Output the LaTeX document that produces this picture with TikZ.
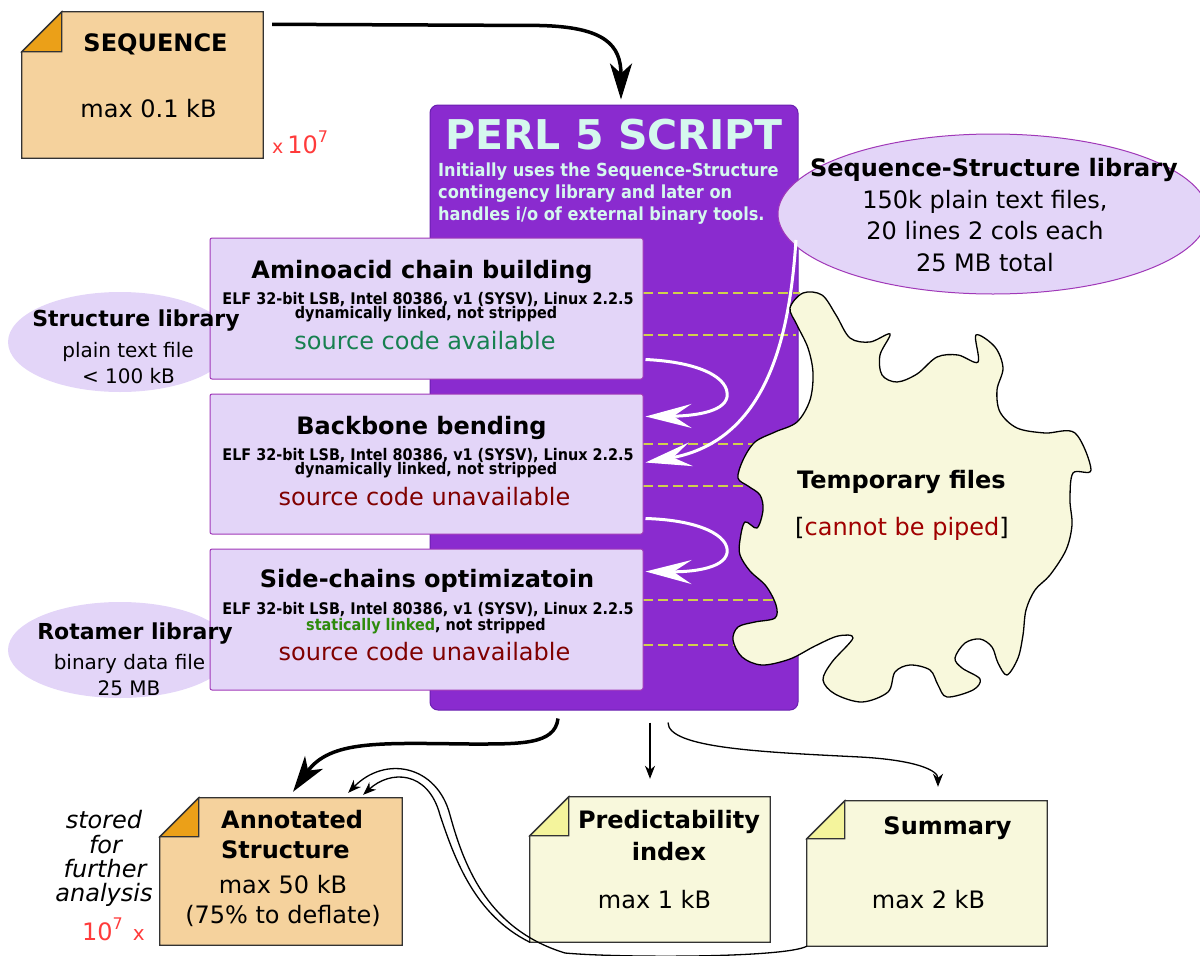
\documentclass[tikz,border=0pt]{standalone}
\usepackage{fontspec}
\setmainfont{DejaVu Sans}
\newfontfamily\condfont[FakeStretch=0.9]{DejaVu Sans}
\usetikzlibrary{shapes.geometric, arrows.meta, calc}

\definecolor{noteor}{HTML}{F5D29D}
\definecolor{foldor}{HTML}{EBA018}
\definecolor{noteye}{HTML}{F8F8DC}
\definecolor{foldye}{HTML}{F4F49C}
\definecolor{perlc}{HTML}{8A2BCF}
\definecolor{perlb}{HTML}{6A20B0}
\definecolor{lav}{HTML}{E3D5F8}
\definecolor{lavb}{HTML}{A038B8}
\definecolor{mint}{HTML}{D5F8EE}
\definecolor{blobc}{HTML}{F8F8DC}
\definecolor{dashc}{HTML}{D0D04C}
\definecolor{redx}{HTML}{FF3B3B}
\definecolor{availc}{HTML}{178050}
\definecolor{unavc}{HTML}{800000}
\definecolor{statc}{HTML}{2E8A0C}
\definecolor{pipec}{HTML}{A00000}
\definecolor{noteb}{HTML}{333333}

\newcommand\fsz[1]{\fontsize{#1}{#1}\selectfont}
\newcommand\mynotebox[4]{%
  \filldraw[fill=#3, draw=noteb, line width=1.3pt, line join=miter] (#1.south west) -- (#1.south east) -- (#1.north east) -- ($(#1.north west)+(#2,0)$) -- ($(#1.north west)+(0,#2)$) -- cycle;
  \filldraw[fill=#4, draw=noteb, line width=1.3pt, line join=miter] ($(#1.north west)+(#2,0)$) -- ($(#1.north west)+(#2,#2)$) -- ($(#1.north west)+(0,#2)$) -- cycle;}

\tikzset{
  t/.style={inner sep=0pt, anchor=base},
  lib/.style={ellipse, draw=lavb, fill=lav, line width=1pt, inner sep=0pt},
  sidelib/.style={ellipse, fill=lav, inner sep=0pt},
  task/.style={rectangle, draw=lavb, fill=lav, line width=1pt, rounded corners=2pt, inner sep=0pt},
  perlbox/.style={rectangle, draw=perlb, fill=perlc, line width=1pt, rounded corners=8pt, inner sep=0pt},
  notearea/.style={rectangle, inner sep=0pt},
  dashln/.style={draw=dashc, line width=2pt, dash pattern=on 10pt off 5pt},
  whitearr/.style={draw=white, line width=3pt, -{Stealth[length=46pt, width=24pt, inset=18pt]}},
  bigarr/.style={draw=black, line width=3.5pt, -{Stealth[length=36pt, width=22pt, inset=10pt]}},
  thinarr/.style={draw=black, line width=1.3pt, -{Stealth[length=13pt, width=10pt, inset=4pt]}},
  blob/.style={draw=black, fill=blobc, line width=1.3pt},
}

\begin{document}
\begin{tikzpicture}[x=1pt, y=-1pt]
\useasboundingbox (0,0) rectangle (1200,956);

% side libraries
\node[sidelib, minimum width=224pt, minimum height=100pt] (stl) at (120,342) {};
\node[sidelib, minimum width=224pt, minimum height=96pt] (rot) at (120,650) {};

% perl script box
\node[perlbox, minimum width=368pt, minimum height=605pt] (perl) at (614,407.5) {};
\node[t, text=mint] (perlt) at (614,149) {\fsz{41}\bfseries PERL 5 SCRIPT};
\node[t, anchor=base west, text=mint] (perld1) at (438,176) {\condfont\bfseries\fsz{18}Initially uses the Sequence-Structure};
\node[t, anchor=base west, text=mint] (perld2) at (438,198) {\condfont\bfseries\fsz{18}contingency library and later on};
\node[t, anchor=base west, text=mint] (perld3) at (438,220) {\condfont\bfseries\fsz{18}handles i/o of external binary tools.};

% dashed lines
\foreach \yy/\xe in {293/800,335/796,444/790,486/790,600/790,645/790}
  \draw[dashln] (643,\yy) -- (\xe,\yy);

% task boxes
\node[task, minimum width=433pt, minimum height=141pt] (b1) at (426.5,308.5) {};
\node[task, minimum width=433pt, minimum height=140pt] (b2) at (426.5,464) {};
\node[task, minimum width=433pt, minimum height=141pt] (b3) at (426.5,619.5) {};

\node[t] (b1t) at (422,278) {\fsz{24}\bfseries Aminoacid chain building};
\node[t] (b1e) at (428,304) {\condfont\bfseries\fsz{16}ELF 32-bit LSB, Intel 80386, v1 (SYSV), Linux 2.2.5};
\node[t] (b1d) at (426,318) {\condfont\bfseries\fsz{16}dynamically linked, not stripped};
\node[t, text=availc] (b1s) at (425,349) {\fsz{24}source code available};

\node[t] (b2t) at (421.5,434) {\fsz{24}\bfseries Backbone bending};
\node[t] (b2e) at (428,460) {\condfont\bfseries\fsz{16}ELF 32-bit LSB, Intel 80386, v1 (SYSV), Linux 2.2.5};
\node[t] (b2d) at (426,474) {\condfont\bfseries\fsz{16}dynamically linked, not stripped};
\node[t, text=unavc] (b2s) at (424.5,505) {\fsz{24}source code unavailable};

\node[t] (b3t) at (427,587) {\fsz{24}\bfseries Side-chains optimizatoin};
\node[t] (b3e) at (428,614) {\condfont\bfseries\fsz{16}ELF 32-bit LSB, Intel 80386, v1 (SYSV), Linux 2.2.5};
\node[t] (b3d) at (426,630) {\condfont\bfseries\fsz{16}\textcolor{statc}{statically linked}, not stripped};
\node[t, text=unavc] (b3s) at (424.5,660) {\fsz{24}source code unavailable};

% library texts
\node[t] (stl1) at (136,326) {\fsz{22}\bfseries Structure library};
\node[t] (stl2) at (128,357) {\fsz{20}plain text file};
\node[t] (stl3) at (128.5,383) {\fsz{20}< 100 kB};
\node[t] (rot1) at (135,639) {\fsz{22}\bfseries Rotamer library};
\node[t] (rot2) at (129.5,669) {\fsz{20}binary data file};
\node[t] (rot3) at (129,695) {\fsz{20}25 MB};

% sequence-structure library
\node[lib, minimum width=430pt, minimum height=160pt] (ssl) at (993,214) {};
\node[t] (ssl1) at (994,176) {\fsz{24}\bfseries Sequence-Structure library};
\node[t] (ssl2) at (985,208) {\fsz{24}150k plain text files,};
\node[t] (ssl3) at (985,239) {\fsz{24}20 lines 2 cols each};
\node[t] (ssl4) at (985,271) {\fsz{24}25 MB total};

% white arrows inside the script box
\coordinate (ws) at (796,240);
\draw[whitearr] ($(b1.north east)+(2,122)$) .. controls (700,362) and (730,378) .. (727,397) .. controls (724,413) and (690,416) .. ($(b2.north east)+(2,23)$);
\draw[whitearr] (ws) .. controls (790,330) and (770,440) .. ($(b2.north east)+(2,69)$);
\draw[whitearr] ($(b2.south east)+(2,-16)$) .. controls (700,520) and (730,536) .. (727,553) .. controls (724,569) and (690,572) .. ($(b3.north east)+(2,23)$);

% temporary files blob
\draw[blob] plot[smooth cycle, tension=0.55] coordinates {
 (790,308) (803,293) (822,295) (836,315) (850,338) (870,342) (890,334) (880,355) (882,375)
 (897,382) (917,374) (937,357) (958,355) (978,362) (976,335) (995,347) (1003,368) (997,390)
 (1000,412) (1017,428) (1045,433) (1075,433) (1091,470) (1073,473) (1070,500) (1072,525)
 (1066,550) (1050,575) (1035,590) (1026,610) (1023,635) (1018,658) (1007,675) (998,663)
 (992,647) (980,639) (965,643) (955,658) (962,668) (980,679) (973,690) (947,697) (938,685)
 (930,670) (910,665) (895,672) (888,692) (862,702) (835,694) (823,680) (832,662) (853,638)
 (838,636) (815,646) (790,659) (762,665) (742,657) (733,640) (738,627) (755,622) (775,618)
 (776,605) (766,586) (750,571) (740,555)
 (740,540) (745,522) (757,528) (763,510) (760,495) (748,486) (738,478) (743,460) (755,442)
 (775,432) (797,422) (810,400) (813,373) (808,348) (797,325)};
\node[t] (tmp1) at (901.5,488) {\fsz{24}\bfseries Temporary files};
\node[t] (tmp2) at (902,535) {\fsz{24}[\textcolor{pipec}{cannot be piped}]};

% sequence note
\node[notearea, minimum width=241pt, minimum height=146pt] (seq) at (142.5,85) {};
\mynotebox{seq}{40}{noteor}{foldor}
\node[t] (seqt) at (155.5,51) {\fsz{24}\bfseries SEQUENCE};
\node[t] (seqs) at (148.5,117) {\fsz{24}max 0.1 kB};
\node[t, anchor=base west, text=redx] (seqx) at (272,153) {\fsz{19}x\hspace{4pt}\fsz{24}10\raisebox{11pt}{\fsz{16}7}};

% output notes
\node[notearea, minimum width=242pt, minimum height=147pt] (ann) at (281,871.5) {};
\mynotebox{ann}{39}{noteor}{foldor}
\node[t, anchor=base west] (ann1) at (221,828) {\fsz{24}\bfseries Annotated};
\node[t, anchor=base west] (ann2) at (221,858) {\fsz{24}\bfseries Structure};
\node[t] (ann3) at (283,893) {\fsz{24}max 50 kB};
\node[t] (ann4) at (283,923) {\fsz{24}(75\% to deflate)};

\node[notearea, minimum width=240pt, minimum height=145pt] (pred) at (650,869.5) {};
\mynotebox{pred}{39}{noteye}{foldye}
\node[t] (pred1) at (669,828) {\fsz{24}\bfseries Predictability};
\node[t] (pred2) at (669,860) {\fsz{24}\bfseries index};
\node[t] (pred3) at (654.5,908) {\fsz{24}max 1 kB};

\node[notearea, minimum width=240pt, minimum height=145pt] (summ) at (927,873.5) {};
\mynotebox{summ}{38}{noteye}{foldye}
\node[t] (summ1) at (947.5,834) {\fsz{24}\bfseries Summary};
\node[t] (summ2) at (928.5,908) {\fsz{24}max 2 kB};

% side texts
\node[t] (st1) at (104,828) {\fsz{24}\itshape stored};
\node[t] (st2) at (105.5,853) {\fsz{24}\itshape for};
\node[t] (st3) at (105,877) {\fsz{24}\itshape further};
\node[t] (st4) at (104,901) {\fsz{24}\itshape analysis};
\node[t, anchor=base west, text=redx] (annx) at (82,940) {\fsz{24}10\raisebox{11pt}{\fsz{16}7}\hspace{10pt}\fsz{20}x};

% black connectors
\draw[bigarr] ($(seq.north east)+(9,12.5)$) -- (540,25.5) .. controls (605,27) and (621,45) .. ($(perl.north)+(7,-5)$);
\draw[bigarr] ($(perl.south)+(-56,8)$) .. controls (555,745) and (520,744) .. (470,744) .. controls (380,743) and (330,740) .. ($(ann.north)+(12,-6)$);
\draw[thinarr] ($(perl.south)+(36,12)$) -- ($(pred.north)+(0,-18)$);
\draw[thinarr] ($(perl.south)+(54,12)$) .. controls (668,748) and (760,752) .. (860,757) .. controls (915,760) and (938,770) .. ($(summ.north)+(11,-14)$);
\draw[thinarr] (pred.south west) .. controls (475,915) and (455,860) .. (440,815) .. controls (428,770) and (390,770) .. ($(ann.north east)+(-39,-3)$);
\draw[thinarr] (summ.south west) .. controls (785,958) and (620,958) .. (565,953) .. controls (490,930) and (465,870) .. (450,815) .. controls (437,765) and (385,755) .. ($(ann.north east)+(-54,-5)$);
\end{tikzpicture}
\end{document}
